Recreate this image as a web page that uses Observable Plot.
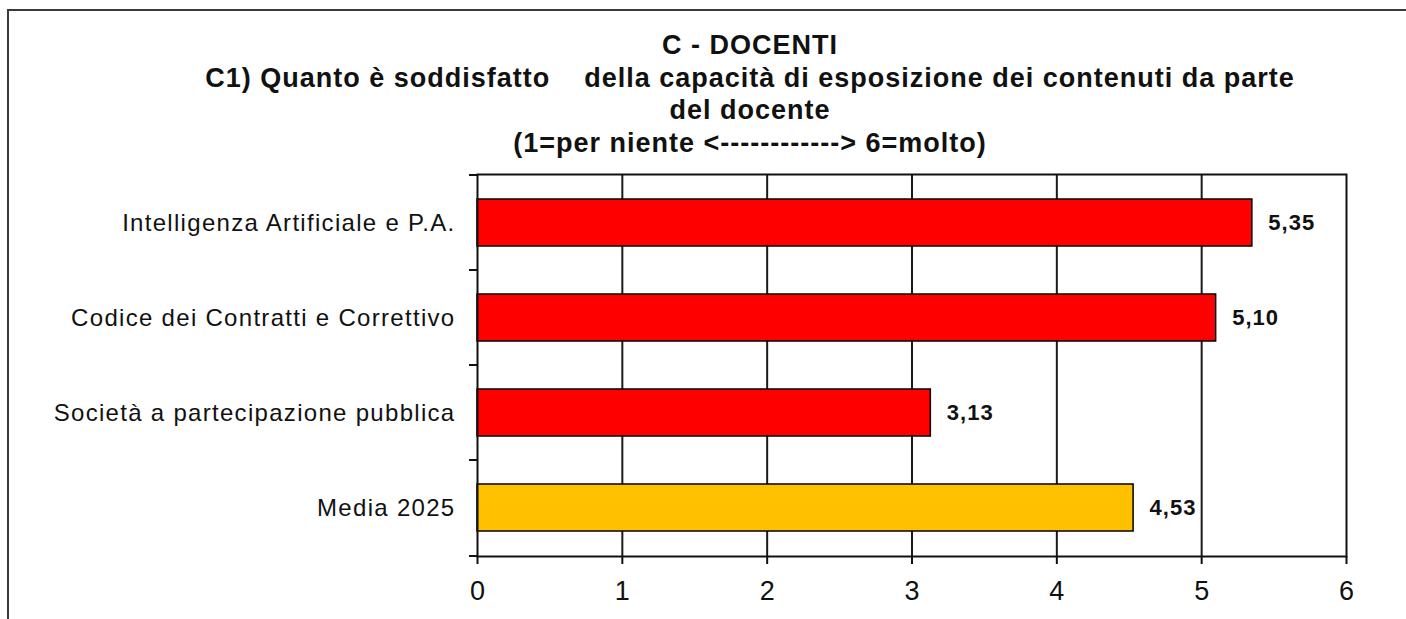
<!DOCTYPE html>
<html><head><meta charset="utf-8">
<script src="https://cdn.jsdelivr.net/npm/d3@7"></script>
<script src="https://cdn.jsdelivr.net/npm/@observablehq/plot@0.6"></script>
<style>
body{margin:0;background:#fff;}
#wrap{position:relative;width:1406px;height:619px;overflow:hidden;background:#fff;font-family:"Liberation Sans",Arial,sans-serif;}
#border{position:absolute;left:7px;top:9px;width:1500px;height:700px;border:2px solid #3a3a3a;box-sizing:border-box;}
#title{position:absolute;left:0;top:29px;width:1500px;text-align:center;font-weight:bold;font-size:27px;line-height:32.5px;color:#111;white-space:pre;letter-spacing:1px;}
#chart{position:absolute;left:0;top:160px;}
#chart g[aria-label="text"] text{letter-spacing:1px;}
#chart g[aria-label="y-axis tick label"] text{letter-spacing:1.3px;}
</style>
</head><body>
<div id="wrap"><div id="border"></div><div id="title"></div><div id="chart"></div></div>
<script>
const titleLines = [
  "C - DOCENTI",
  "C1) Quanto è soddisfatto    della capacità di esposizione dei contenuti da parte",
  "del docente",
  "(1=per niente <------------> 6=molto)"
];
const categories = [
  "Intelligenza Artificiale e P.A.",
  "Codice dei Contratti e Correttivo",
  "Società a partecipazione pubblica",
  "Media 2025"
];
const values = [5.35, 5.10, 3.13, 4.53];
const valueLabels = ["5,35", "5,10", "3,13", "4,53"];
const barColors = ["#FF0000", "#FF0000", "#FF0000", "#FFC000"];
const xTicks = [0, 1, 2, 3, 4, 5, 6];
const gridTicks = [1, 2, 3, 4, 5];

document.getElementById("title").textContent = titleLines.join("\n");

const data = categories.map((c, i) => ({cat: c, value: values[i], label: valueLabels[i], color: barColors[i]}));

// tick marks at category band boundaries (left axis)
function bandBoundaryTicks(index, scales, vals, dims) {
  const g = d3.create("svg:g").attr("aria-label", "y-boundary-ticks");
  const ys = categories.map(c => scales.y(c));
  ys.push(dims.height - dims.marginBottom);
  for (const y of ys) {
    g.append("line")
      .attr("x1", dims.marginLeft - 8).attr("x2", dims.marginLeft)
      .attr("y1", y).attr("y2", y)
      .attr("stroke", "#111").attr("stroke-width", 2);
  }
  return g.node();
}

const chart = Plot.plot({
  width: 1406,
  height: 459,
  marginLeft: 477,
  marginRight: 60,
  marginTop: 14,
  marginBottom: 63,
  style: {fontFamily: "'Liberation Sans', Arial, sans-serif", color: "#111", background: "transparent"},
  x: {domain: [0, 6], axis: null},
  y: {domain: categories, padding: 0, axis: null},
  color: {type: "identity"},
  marks: [
    Plot.ruleX(gridTicks, {stroke: "#1a1a1a", strokeWidth: 2}),
    Plot.barX(data, {x: "value", y: "cat", fill: "color", insetTop: 24, insetBottom: 24, stroke: "#000", strokeWidth: 1.5}),
    Plot.text(data, {x: "value", y: "cat", text: "label", dx: 16, textAnchor: "start", fontWeight: "bold", fontSize: 22, fill: "#111"}),
    Plot.frame({stroke: "#111", strokeWidth: 2}),
    Plot.axisX({ticks: xTicks, tickSize: 8, tickPadding: 16, fontSize: 27, strokeWidth: 2, tickFormat: d => String(d), label: null}),
    Plot.axisY({tickSize: 0, tickPadding: 22, fontSize: 24, label: null}),
    bandBoundaryTicks
  ]
});
document.getElementById("chart").appendChild(chart);
</script>
</body></html>
